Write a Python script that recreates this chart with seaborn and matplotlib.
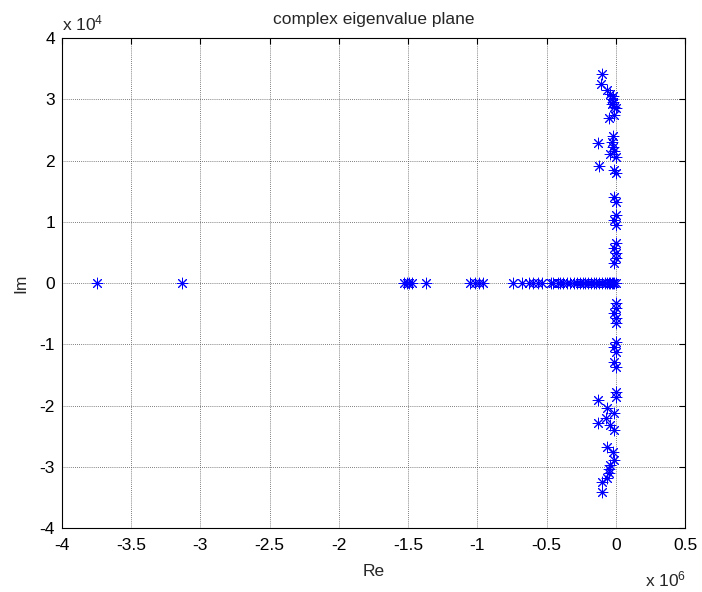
import numpy as np
import pandas as pd
import matplotlib
matplotlib.use("Agg")
import matplotlib.pyplot as plt
import seaborn as sns

# Eigenvalues: real part (x 1e6), imaginary part (x 1e4)
re_upper = [-0.10, -0.11, -0.06, -0.04, -0.03, -0.02, -0.01, -0.03, 0.00, -0.02,
            -0.05, -0.01, -0.02, -0.03, -0.02, -0.01, -0.04, 0.00, -0.13, -0.12,
            -0.01, 0.00, -0.01, 0.00, 0.00, -0.01, 0.00, 0.00, -0.01, 0.00,
            0.00, -0.01]
im_upper = [3.41, 3.25, 3.15, 3.08, 3.00, 2.95, 2.88, 2.92, 2.85, 3.05,
            2.70, 2.74, 2.40, 2.30, 2.22, 2.16, 2.10, 2.05, 2.29, 1.91,
            1.85, 1.80, 1.40, 1.32, 1.11, 1.03, 0.95, 0.65, 0.57, 0.49,
            0.41, 0.33]
re_lower = [0.00, 0.00, -0.01, 0.00, 0.00, 0.00, -0.01, 0.00, -0.01, 0.00,
            0.00, 0.00, -0.13, -0.06, -0.01, -0.07, -0.13, -0.04, -0.01, -0.06,
            -0.02, -0.01, -0.04, -0.05, -0.05, -0.06, -0.10, -0.10]
im_lower = [-0.33, -0.41, -0.49, -0.57, -0.65, -0.96, -1.04, -1.13, -1.29, -1.37,
            -1.78, -1.86, -1.91, -2.04, -2.12, -2.20, -2.29, -2.32, -2.40, -2.67,
            -2.76, -2.89, -2.97, -3.03, -3.10, -3.18, -3.25, -3.41]
re_axis = [-3.75, -3.13, -1.53, -1.51, -1.49, -1.47, -1.37, -1.05, -1.02, -0.99,
           -0.96, -0.74, -0.68, -0.63, -0.60, -0.56, -0.53, -0.47, -0.45, -0.42,
           -0.40, -0.38, -0.35, -0.33, -0.30, -0.28, -0.26, -0.24, -0.22, -0.20,
           -0.18, -0.16, -0.14, -0.12, -0.10, -0.08, -0.06, -0.05, -0.04, -0.03,
           -0.02, -0.01, 0.00]
im_axis = [0.0] * len(re_axis)

x_ticks = [-4, -3.5, -3, -2.5, -2, -1.5, -1, -0.5, 0, 0.5]
x_tick_labels = ["-4", "-3.5", "-3", "-2.5", "-2", "-1.5", "-1", "-0.5", "0", "0.5"]
y_ticks = [-4, -3, -2, -1, 0, 1, 2, 3, 4]
y_tick_labels = ["-4", "-3", "-2", "-1", "0", "1", "2", "3", "4"]

df = pd.DataFrame({
    "Re": re_upper + re_lower + re_axis,
    "Im": im_upper + im_lower + im_axis,
})

sns.set_style("white")
plt.rcParams["font.family"] = ["Liberation Sans", "DejaVu Sans"]
plt.rcParams["mathtext.default"] = "regular"

FS = 12.5

fig = plt.figure(figsize=(7.02, 5.92), dpi=100)
ax = fig.add_axes([0.0883, 0.1081, 0.8875, 0.8277])

sns.scatterplot(data=df, x="Re", y="Im", marker=(8, 2, 0), s=60, color="blue",
                edgecolor="blue", linewidth=0.7, ax=ax, legend=False, zorder=3)

ax.set_xlim(-4, 0.5)
ax.set_ylim(-4, 4)
ax.set_xticks(x_ticks)
ax.set_xticklabels(x_tick_labels)
ax.set_yticks(y_ticks)
ax.set_yticklabels(y_tick_labels)
ax.grid(True, linestyle=(0, (1, 1.5)), color="#555555", linewidth=0.6)
ax.tick_params(direction="in", length=4, width=0.8, labelsize=FS, colors="black",
               top=True, right=True)
ax.tick_params(axis="x", pad=7)
ax.tick_params(axis="y", pad=5)
for sp in ax.spines.values():
    sp.set_color("black")
    sp.set_linewidth(0.8)

ax.set_xlabel("Re", fontsize=FS, labelpad=8)
ax.set_ylabel("Im", fontsize=FS, labelpad=8)
ax.set_title("complex eigenvalue plane", fontsize=FS, pad=10)

fig.text(0.088, 0.949, r"x 10$^{4}$", fontsize=FS, ha="left", va="baseline")
fig.text(0.978, 0.010, r"x 10$^{6}$", fontsize=FS, ha="right", va="baseline")

fig.savefig("out.png", dpi=100, facecolor="white")
